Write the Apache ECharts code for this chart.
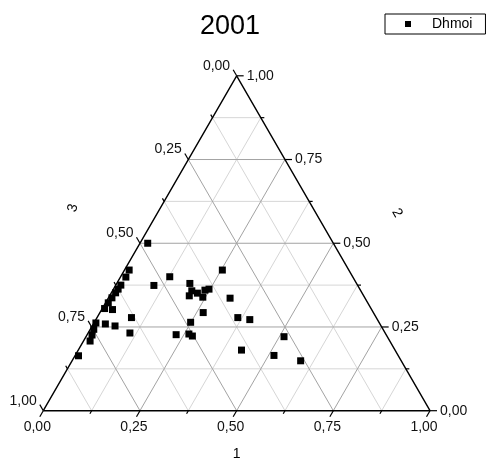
<!DOCTYPE html>
<html><head><meta charset="utf-8">
<script src="https://cdn.jsdelivr.net/npm/echarts@6/dist/echarts.min.js"></script>
<style>html,body{margin:0;padding:0;background:#fff}#c{width:486px;height:460px}</style>
</head><body><div id="c"></div>
<script>
// ---- data ----
const titleText = '2001';
const seriesName = 'Dhmoi';
const axisNames = ['1', '2', '3'];
const majorTicks = [0, 0.25, 0.5, 0.75, 1];
const majorTickLabels = ['0,00', '0,25', '0,50', '0,75', '1,00'];
const minorTicks = [0.125, 0.375, 0.625, 0.875];
// ternary components (axis 1, axis 2, axis 3)
const comp1 = [0.020,0.012,0.014,0.099,0.013,0.012,0.011,0.009,0.007,0.006,0.028,0.089,0.031,0.059,0.005,0.009,0.013,0.017,0.108,0.009,
               0.253,0.127,0.189,0.205,0.223,0.206,0.243,0.238,0.247,0.315,0.267,0.249,0.364,0.398,0.230,0.262,0.274,0.512,0.422,0.514,0.591];
const comp2 = [0.500,0.420,0.399,0.374,0.375,0.363,0.352,0.337,0.322,0.305,0.302,0.278,0.259,0.253,0.262,0.243,0.226,0.208,0.232,0.164,
               0.420,0.400,0.380,0.358,0.351,0.343,0.339,0.360,0.363,0.336,0.293,0.264,0.278,0.272,0.227,0.229,0.223,0.221,0.181,0.165,0.149];
const comp3 = comp1.map((a, i) => +(1 - a - comp2[i]).toFixed(3));

// ---- ternary -> cartesian helper ----
const S = Math.sqrt(3) / 2;
function toXY(a, b) { return [a + b / 2, b * S]; }
// point on the edge belonging to axis k for value v
function edgePoint(k, v) {
  if (k === 0) return toXY(v, 0);        // bottom edge
  if (k === 1) return toXY(1 - v, v);    // right edge
  return toXY(0, 1 - v);                 // left edge
}

const scatterData = comp1.map((a, i) => { const p = toXY(a, comp2[i]); return [p[0], p[1], a, comp2[i], comp3[i]]; });

const gridData = [];
[...minorTicks, 0.25, 0.5, 0.75].forEach(v => {
  const major = majorTicks.indexOf(v) >= 0 ? 1 : 0;
  let p, q;
  p = toXY(v, 0); q = toXY(v, 1 - v); gridData.push([p[0], p[1], q[0], q[1], major]);
  p = toXY(0, v); q = toXY(1 - v, v); gridData.push([p[0], p[1], q[0], q[1], major]);
  p = toXY(0, 1 - v); q = toXY(1 - v, 0); gridData.push([p[0], p[1], q[0], q[1], major]);
});

const tickData = [];
for (let k = 0; k < 3; k++) {
  majorTicks.forEach((v, i) => { const p = edgePoint(k, v); tickData.push([p[0], p[1], k, 1, i]); });
  minorTicks.forEach(v => { const p = edgePoint(k, v); tickData.push([p[0], p[1], k, 0, -1]); });
}
const edgeData = [toXY(0, 0), toXY(1, 0), toXY(0, 1), toXY(0, 0)];

const FONT = '"Liberation Sans", Arial, sans-serif';
const DIRS = [[-0.5, 0.866], [1, 0], [-0.5, -0.866]];

const chart = echarts.init(document.getElementById('c'));
chart.setOption({
  animation: false,
  backgroundColor: '#fff',
  title: { text: titleText, left: 230, textAlign: 'center', top: 13, padding: 0,
    textStyle: { fontFamily: FONT, fontSize: 27, fontWeight: 'normal', color: '#000' } },
  legend: {
    data: [seriesName], left: 385, top: 14, orient: 'vertical',
    borderColor: '#000', borderWidth: 1, borderRadius: 0, padding: [3, 13, 3, 20],
    itemWidth: 6, itemHeight: 6, icon: 'rect',
    itemStyle: { opacity: 1 },
    textStyle: { fontFamily: FONT, fontSize: 14, color: '#000', padding: [0, 0, 0, 16] }
  },
  grid: { left: 43.3, right: 56, top: 75.8, bottom: 49.3 },
  xAxis: { type: 'value', min: 0, max: 1, show: false },
  yAxis: { type: 'value', min: 0, max: S, show: false },
  graphic: [
    { type: 'text', x: 236.7, y: 454, style: { text: axisNames[0], font: '14px ' + FONT, fill: '#000', align: 'center', verticalAlign: 'middle' } },
    { type: 'text', x: 397, y: 213, rotation: -Math.PI / 3, style: { text: axisNames[1], font: '14px ' + FONT, fill: '#000', align: 'center', verticalAlign: 'middle' } },
    { type: 'text', x: 73, y: 208, rotation: Math.PI * 0.42, style: { text: axisNames[2], font: '14px ' + FONT, fill: '#000', align: 'center', verticalAlign: 'middle' } }
  ],
  series: [
    {
      type: 'custom', name: 'grid', silent: true, z: 1, clip: false,
      encode: { x: [0, 2], y: [1, 3] },
      data: gridData,
      renderItem: function (params, api) {
        const p = api.coord([api.value(0), api.value(1)]);
        const q = api.coord([api.value(2), api.value(3)]);
        return { type: 'line', shape: { x1: p[0], y1: p[1], x2: q[0], y2: q[1] },
          style: { stroke: api.value(4) ? '#a3a3a3' : '#d6d6d6', lineWidth: 1 } };
      }
    },
    {
      type: 'line', name: 'edges', silent: true, z: 3, data: edgeData, showSymbol: false,
      lineStyle: { color: '#000', width: 1.4 }, clip: false
    },
    {
      type: 'custom', name: 'ticks', silent: true, z: 4, clip: false,
      encode: { x: 0, y: 1 },
      data: tickData,
      renderItem: function (params, api) {
        const p = api.coord([api.value(0), api.value(1)]);
        const k = api.value(2), major = api.value(3), li = api.value(4);
        const d = DIRS[k], len = major ? 7 : 3.5;
        const children = [{ type: 'line', shape: { x1: p[0], y1: p[1], x2: p[0] + d[0] * len, y2: p[1] + d[1] * len },
          style: { stroke: '#000', lineWidth: 1.2 } }];
        if (major) {
          let x, y, align;
          if (k === 0) { x = p[0] - 6; y = p[1] + 16; align = 'center'; }
          else if (k === 1) { x = p[0] + 10; y = p[1]; align = 'left'; }
          else { x = p[0] - 6.5; y = p[1] - 10; align = 'right'; }
          children.push({ type: 'text', x: x, y: y,
            style: { text: majorTickLabels[li], font: '14px ' + FONT, fill: '#111', align: align, verticalAlign: 'middle' } });
        }
        return { type: 'group', children: children };
      }
    },
    {
      type: 'scatter', name: seriesName, z: 5, symbol: 'rect', symbolSize: 7,
      itemStyle: { color: '#000', opacity: 1 }, data: scatterData, clip: false
    }
  ]
});
</script>
</body></html>
